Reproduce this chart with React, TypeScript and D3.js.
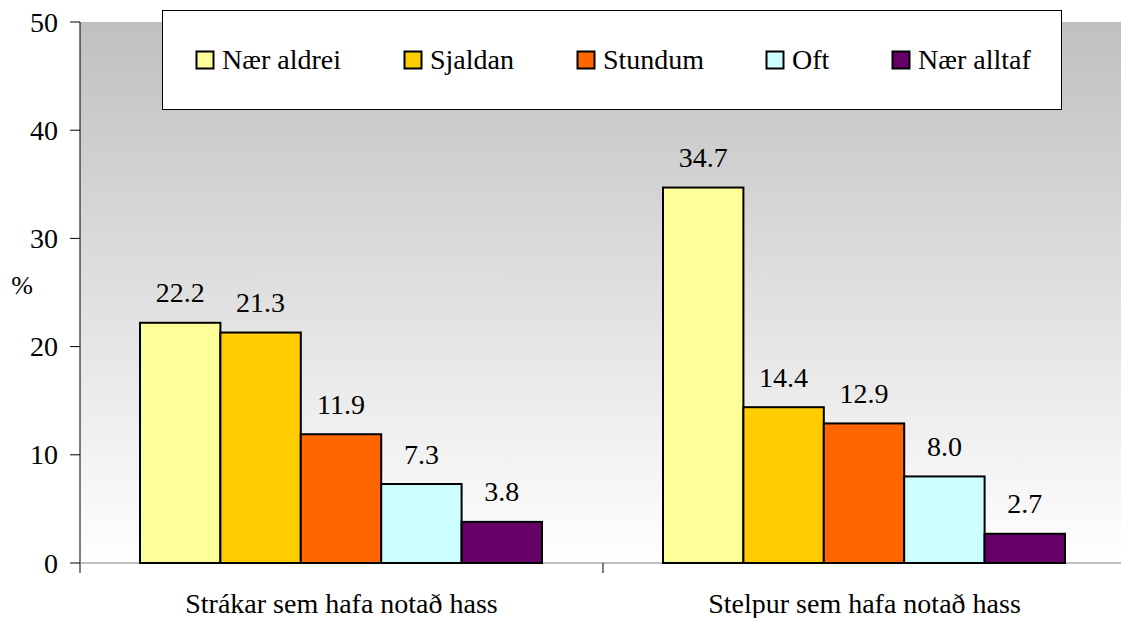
import React from "react";
import * as d3 from "d3";

const categories = ["Strákar sem hafa notað hass", "Stelpur sem hafa notað hass"];
const seriesNames = ["Nær aldrei", "Sjaldan", "Stundum", "Oft", "Nær alltaf"];
const seriesColors = ["#FFFF99", "#FFCC00", "#FF6600", "#CCFFFF", "#660066"];
const values = [
  [22.2, 21.3, 11.9, 7.3, 3.8],
  [34.7, 14.4, 12.9, 8.0, 2.7],
];
const yTicks = [0, 10, 20, 30, 40, 50];

const W = 1121, H = 618;
const left = 80, top = 22, bottom = 563, right = 1126;
const ff = { fontFamily: "Liberation Serif" };

export default function App() {
  const y = d3.scaleLinear().domain([0, 50]).range([bottom, top]);
  const x0 = d3.scaleBand().domain(categories).range([left, right]).paddingInner(0).paddingOuter(0);
  const x1 = d3.scaleBand().domain(seriesNames).range([60, x0.bandwidth() - 61]).paddingOuter(0).paddingInner(0);

  const legendX = [196.5, 404.5, 577.5, 766.5, 892.5];

  return (
    <svg width={W} height={H} style={{ position: "absolute", left: 0, top: 0, fontFamily: "Liberation Serif" }}>
      <defs>
        <linearGradient id="bg" x1="0" y1="0" x2="0" y2="1">
          <stop offset="0" stopColor="#C0C0C0" />
          <stop offset="1" stopColor="#FFFFFF" />
        </linearGradient>
      </defs>
      <rect x={0} y={0} width={W} height={H} fill="#fff" />
      <rect x={left} y={top} width={right - left} height={bottom - top} fill="url(#bg)" />
      <line x1={left} y1={top} x2={left} y2={bottom + 10} stroke="#000" strokeWidth={1} />
      {yTicks.map((t) => (
        <g key={t}>
          <line x1={left - 10} x2={left} y1={y(t)} y2={y(t)} stroke="#000" />
          <text x={58} y={y(t) + 9.5} textAnchor="end" style={ff} fontSize={28}>{t}</text>
        </g>
      ))}
      <text x={22} y={294} textAnchor="middle" style={ff} fontSize={26}>%</text>
      <line x1={left} x2={right} y1={bottom} y2={bottom} stroke="#808080" strokeWidth={1} />
      {categories.map((c) => (
        <line key={c} x1={x0(c)! + x0.bandwidth()} x2={x0(c)! + x0.bandwidth()} y1={bottom} y2={bottom + 10} stroke="#000" />
      ))}
      {categories.map((c, ci) => (
        <g key={c}>
          {values[ci].map((v, si) => {
            const bx = x0(c)! + x1(seriesNames[si])!;
            return (
              <g key={si}>
                <rect x={bx} y={y(v)} width={x1.bandwidth()} height={bottom - y(v)} fill={seriesColors[si]} stroke="#000" strokeWidth={2} />
                <text x={bx + x1.bandwidth() / 2} y={y(v) - 20.5} textAnchor="middle" style={ff} fontSize={28}>{v.toFixed(1)}</text>
              </g>
            );
          })}
          <text x={x0(c)! + x0.bandwidth() / 2} y={613} textAnchor="middle" style={ff} fontSize={28}>{c}</text>
        </g>
      ))}
      <rect x={162.5} y={10.5} width={899} height={99} fill="#fff" stroke="#000" strokeWidth={1} />
      {seriesNames.map((s, i) => (
        <g key={s}>
          <rect x={legendX[i]} y={51.5} width={17} height={17} fill={seriesColors[i]} stroke="#000" strokeWidth={2} />
          <text x={legendX[i] + 25.5} y={69} style={ff} fontSize={28}>{s}</text>
        </g>
      ))}
    </svg>
  );
}
